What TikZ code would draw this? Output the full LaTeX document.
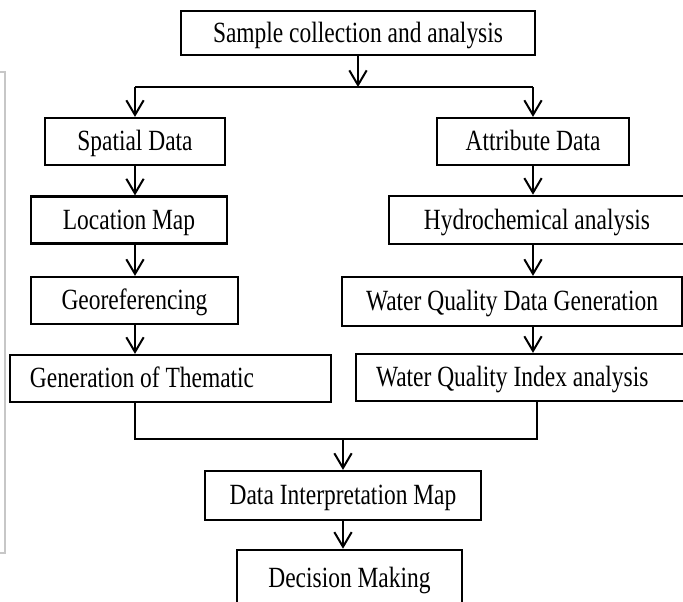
\documentclass[tikz,border=0pt]{standalone}
\usepackage{fontspec}
\setmainfont{Liberation Serif}
\newfontfamily\boxfont{Liberation Serif}[FakeStretch=0.8]
\usetikzlibrary{arrows.meta,positioning}

\begin{document}
\begin{tikzpicture}[
  x=0.75pt, y=-0.75pt,
  box/.style={draw, line width=1.9pt, minimum height=35pt, inner sep=0pt, text height=19pt, text depth=4.8pt, font=\boxfont\fontsize{22}{24}\selectfont},
  lbox/.style={box, align=flush left, inner xsep=15pt},
  conn/.style={line width=1.5pt},
  arr/.style={conn, -{Straight Barb[length=11pt, width=13pt, line width=1.5pt]}},
  frame/.style={draw=black!22, line width=1pt}
]
\useasboundingbox (0,0) rectangle (683,601);
\clip (0,0) rectangle (683,601);

% ---- page frame ----
\draw[frame] (0,72) -- (5,72) -- (5,553) -- (0,553);

% ---- top ----
\node[box, minimum width=265.5pt, minimum height=33pt] (sample) at (358,33) {Sample collection and analysis};
\coordinate (split) at (358,87);

\draw[arr] (sample) -- (split);

% ---- left branch ----
\node[box, minimum width=135pt] (spatial) at (135,141.5) {Spatial Data};
\node[box, minimum width=147pt] (locmap) at (129,220) {Location Map};
\node[box, minimum width=155.25pt] (georef) at (134.5,300.5) {Georeferencing};
\node[lbox, text width=210.75pt] (thematic) at (170.5,378.5) {Generation of Thematic};

\draw[conn] (split -| spatial) -- (split);
\draw[arr] (split -| spatial) -- (spatial);
\draw[arr] (spatial) -- (locmap.north -| spatial);
\draw[arr] (locmap.south -| spatial) -- (georef.north -| spatial);
\draw[arr] (georef.south -| spatial) -- (thematic.north -| spatial);

% ---- right branch ----
\node[box, minimum width=144pt] (attrib) at (533,141.5) {Attribute Data};
\node[box, minimum width=222pt, minimum height=36pt] (hydro) at (537,220) {Hydrochemical analysis};
\node[box, minimum width=255pt, minimum height=36.5pt] (wqdata) at (512,301.5) {Water Quality Data Generation};
\node[lbox, text width=220.5pt] (wqindex) at (523,377.5) {Water Quality Index analysis};

\draw[conn] (split) -- (split -| attrib);
\draw[arr] (split -| attrib) -- (attrib);
\draw[arr] (attrib) -- (hydro.north -| attrib);
\draw[arr] (hydro.south -| attrib) -- (wqdata.north -| attrib);
\draw[arr] (wqdata.south -| attrib) -- (wqindex.north -| attrib);

% ---- merge ----
\coordinate (lj) at (135,439);
\coordinate (rj) at (537,439);
\coordinate (join) at (343,439);
\node[box, minimum width=207pt, minimum height=36.5pt] (interp) at (343,495.5) {Data Interpretation Map};
\node[box, minimum width=168.75pt, minimum height=42pt] (decision) at (349.5,578) {Decision Making};

\draw[conn] (thematic.south -| lj) -- (lj) -- (rj) -- (wqindex.south -| rj);
\draw[arr] (join) -- (interp);
\draw[arr] (interp.south) -- (decision.north -| interp.south);

\end{tikzpicture}
\end{document}
